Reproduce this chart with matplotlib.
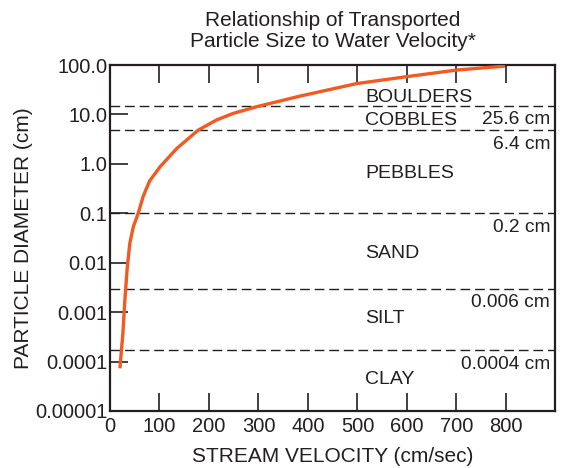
import matplotlib
matplotlib.use("Agg")
import matplotlib.pyplot as plt
import numpy as np

plt.rcParams['font.family'] = ['Liberation Sans', 'DejaVu Sans']

# Curve: stream velocity (cm/sec) vs particle diameter (cm)
velocity = [20, 26, 30, 35, 40, 47, 57, 67, 80, 101, 135, 178, 215, 249, 296, 384, 498, 599, 700, 798]
diameter = [7.3e-5, 3.7e-4, 0.00175, 0.0083, 0.0245, 0.053, 0.1, 0.22, 0.45, 0.87,
            2.05, 4.8, 7.7, 10.5, 14.3, 23.5, 42, 58, 79, 95]

# Boundary lines (as drawn) and their labels
boundary_y = [15, 4.8, 0.1, 0.003, 0.00017]
boundary_labels = ["25.6 cm", "6.4 cm", "0.2 cm", "0.006 cm", "0.0004 cm"]

# Size classes and label (baseline) positions
classes = ["BOULDERS", "COBBLES", "PEBBLES", "SAND", "SILT", "CLAY"]
class_y = [18.1, 6.1, 0.516, 0.0124, 0.000598, 3.6e-5]

yticks = [1e-5, 1e-4, 1e-3, 1e-2, 1e-1, 1, 10, 100]
yticklabels = ["0.00001", "0.0001", "0.001", "0.01", "0.1", "1.0", "10.0", "100.0"]
xticks = [0, 100, 200, 300, 400, 500, 600, 700, 800]

txt = '#231f20'
fig = plt.figure(figsize=(5.66, 4.68), dpi=100)
ax = fig.add_axes([110/566, 57/468, 445/566, 346/468])

ax.set_yscale('log')
ax.set_xlim(0, 899)
ax.set_ylim(1e-5, 100)

for yv in boundary_y:
    ax.axhline(yv, color=txt, lw=1.0, ls=(0, (7, 3.5)), zorder=1)

ax.plot(velocity, diameter, color='#f15a22', lw=2.4, solid_capstyle='butt', zorder=3)

for name, yv in zip(classes, class_y):
    ax.text(515, yv, name, fontsize=14, color=txt, va='baseline', ha='left')

for lab, yv in zip(boundary_labels, boundary_y):
    ax.annotate(lab, xy=(889, yv), xytext=(0, -4), textcoords='offset points',
                fontsize=13.8, color=txt, ha='right', va='top')

ax.set_yticks(yticks)
ax.set_yticklabels(yticklabels)
ax.yaxis.set_minor_locator(matplotlib.ticker.NullLocator())
ax.set_xticks(xticks)
ax.tick_params(axis='x', which='major', direction='in', length=13, width=1.2,
               color=txt, labelsize=14.5, labelcolor=txt, pad=4,
               bottom=True, top=True, labelbottom=True, labeltop=False)
ax.tick_params(axis='y', which='major', direction='in', length=13, width=1.2,
               color=txt, labelsize=14.5, labelcolor=txt, pad=2,
               left=True, right=False, labelleft=True)

for s in ax.spines.values():
    s.set_linewidth(1.6)
    s.set_color(txt)

ax.set_xlabel("STREAM VELOCITY (cm/sec)", fontsize=15, color=txt, labelpad=8)
ax.set_ylabel("PARTICLE DIAMETER (cm)", fontsize=15, color=txt, labelpad=1)
ax.set_title("Relationship of Transported\nParticle Size to Water Velocity*",
             fontsize=15, color=txt, pad=13, linespacing=1.15)

fig.savefig("out.png", dpi=100)
